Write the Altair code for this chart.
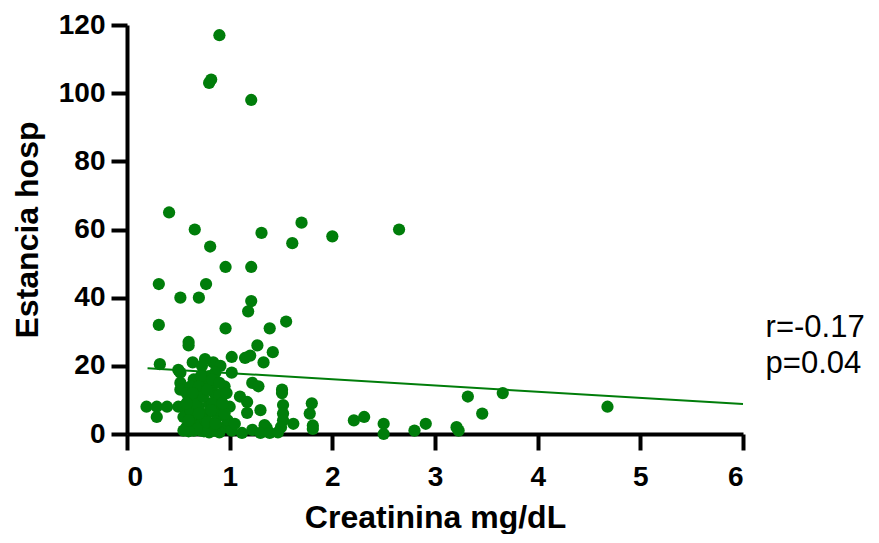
import altair as alt
import pandas as pd

# Creatinina (mg/dL) and Estancia hosp (days)
creat = [
    0.90, 0.80, 0.82, 1.21, 0.41, 0.66, 0.81, 1.31, 1.70, 1.61, 2.00, 2.65,
    0.96, 1.21, 0.31, 0.77, 0.52, 0.70, 1.21, 1.18, 0.31, 0.96, 1.39, 1.55,
    0.60, 0.60, 1.27, 1.42, 1.33, 1.02, 1.15, 1.20, 0.84,
    0.32, 0.50, 0.52, 0.64, 0.76, 0.73, 0.91, 0.86, 1.02, 0.80, 0.65, 0.52,
    0.52, 0.62, 0.75, 0.85, 0.95, 1.22, 1.28, 1.51, 1.51,
    1.10, 1.17, 1.80, 1.78, 1.81, 1.81, 1.62, 1.52, 1.52, 1.52, 1.50, 1.30,
    1.17, 1.34, 1.36, 1.12, 1.22, 1.30, 1.39, 1.47,
    0.19, 0.29, 0.29, 0.39, 0.50, 0.55, 0.60, 0.55, 0.63, 0.58, 0.65, 0.70,
    0.72, 0.68, 0.75, 0.72, 0.78, 0.80, 0.82, 0.85, 0.88, 0.90, 0.92, 0.95,
    0.98, 1.00, 1.02, 0.70, 0.76, 0.66, 0.85, 0.88, 0.62, 0.58, 0.95, 1.05,
    0.80, 0.90, 0.65, 0.75, 0.90, 0.83, 0.72, 0.68, 0.78, 0.60, 0.86,
    0.55, 0.60, 0.67, 0.70, 0.74, 0.78, 0.82, 0.86, 0.93, 0.97, 0.70, 0.64,
    0.83, 0.90, 0.58,
    2.21, 2.31, 2.50, 2.50, 2.80, 2.91, 3.21, 3.23, 3.32, 3.66, 3.46, 4.68,
]
estancia = [
    117, 103, 104, 98, 65, 60, 55, 59, 62, 56, 58, 60,
    49, 49, 44, 44, 40, 40, 39, 36, 32, 31, 31, 33,
    27, 26, 26, 24, 21, 22.6, 22.3, 23, 21,
    20.5, 18.8, 18, 21, 22, 20, 20, 18, 18, 17, 16, 15,
    13, 14, 15, 15, 14, 15, 14, 13, 12,
    11, 9.4, 9, 6, 2.5, 1.5, 3, 8.5, 6, 4, 2, 7,
    6.2, 2.6, 1.8, 0.3, 1.2, 0.3, 0.3, 0.5,
    8, 8, 5, 8, 8, 8, 10, 5, 3, 2, 6, 8,
    12, 4, 2, 1, 6, 9, 3, 1, 5, 7, 11, 2,
    4, 8, 1, 2.5, 4, 10, 12, 9, 7, 12, 6, 3,
    0.5, 0.5, 1, 0.8, 11.4, 9, 17, 1.5, 3.5, 0.8, 2.5,
    1, 4, 9, 14, 11, 13, 7, 3, 9, 12, 6, 12,
    16, 15, 9,
    4, 5, 3, 0, 1, 3, 2, 1, 11, 12, 6, 8,
]

fit_x = [0.2, 6.0]
fit_y = [19.3, 8.8]

stats_x = [6.22, 6.22]
stats_y = [31.0, 20.6]
stats_t = ["r=-0.17", "p=0.04"]

x_ticks = [0, 1, 2, 3, 4, 5, 6]
y_ticks = [0, 20, 40, 60, 80, 100, 120]

GREEN = "#007d0a"

pts = pd.DataFrame({"x": creat, "y": estancia})
fit = pd.DataFrame({"x": fit_x, "y": fit_y})
stats = pd.DataFrame({"x": stats_x, "y": stats_y, "t": stats_t})

xscale = alt.Scale(domain=[0, 6], nice=False, zero=False)
yscale = alt.Scale(domain=[0, 120], nice=False, zero=False)

xaxis = alt.Axis(
    title="Creatinina mg/dL", values=x_ticks, format="d",
    grid=False, domainColor="black", domainWidth=4,
    tickColor="black", tickWidth=4, tickSize=16,
    labelFont="Liberation Sans", labelFontWeight="bold", labelFontSize=28,
    labelColor="black", labelPadding=13,
    titleFont="Liberation Sans", titleFontWeight="bold", titleFontSize=32,
    titleColor="black", titlePadding=11,
)
yaxis = alt.Axis(
    title="Estancia hosp", values=y_ticks, format="d",
    grid=False, domainColor="black", domainWidth=4,
    tickColor="black", tickWidth=4, tickSize=16,
    labelFont="Liberation Sans", labelFontWeight="bold", labelFontSize=28,
    labelColor="black", labelPadding=6,
    titleFont="Liberation Sans", titleFontWeight="bold", titleFontSize=32,
    titleColor="black", titlePadding=14,
)

points = alt.Chart(pts).mark_circle(size=150, color=GREEN, opacity=1).encode(
    x=alt.X("x:Q", scale=xscale, axis=xaxis),
    y=alt.Y("y:Q", scale=yscale, axis=yaxis),
)

line = alt.Chart(fit).mark_line(color=GREEN, strokeWidth=2).encode(
    x=alt.X("x:Q", scale=xscale),
    y=alt.Y("y:Q", scale=yscale),
)

text = alt.Chart(stats).mark_text(
    align="left", baseline="middle", font="Liberation Sans",
    fontSize=31, color="black",
).encode(
    x=alt.X("x:Q", scale=xscale),
    y=alt.Y("y:Q", scale=yscale),
    text="t:N",
)

chart = alt.layer(line, points, text).properties(
    width=616, height=409,
    autosize=alt.AutoSizeParams(type="none"),
    padding={"left": 119, "top": 17, "right": 127, "bottom": 100},
).configure_view(stroke=None)

chart.save("out.html", embed_options={"renderer": "svg", "actions": False})
